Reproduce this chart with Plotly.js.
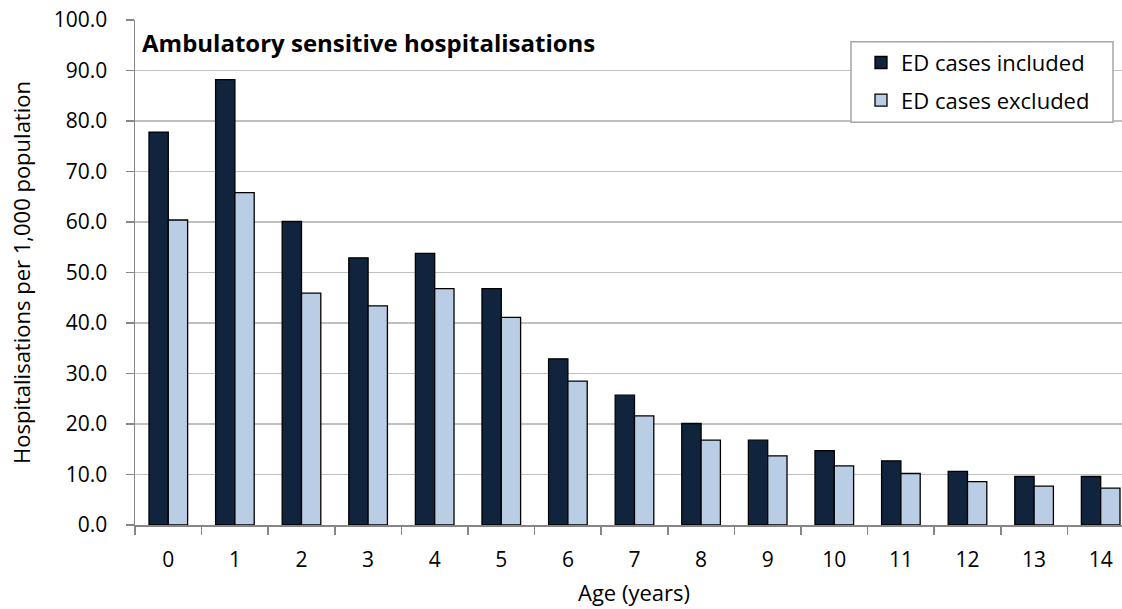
<!DOCTYPE html>
<html>
<head>
<meta charset="utf-8">
<script src="https://cdn.plot.ly/plotly-3.0.1.min.js"></script>
<style>html,body{margin:0;padding:0;background:#fff;}#chart{width:1122px;height:609px;}</style>
</head>
<body>
<div id="chart"></div>
<script>
const ages = ['0','1','2','3','4','5','6','7','8','9','10','11','12','13','14'];
const edIncluded = [77.8, 88.2, 60.1, 52.9, 53.8, 46.8, 32.9, 25.7, 20.1, 16.8, 14.7, 12.7, 10.6, 9.6, 9.6];
const edExcluded = [60.4, 65.8, 45.9, 43.4, 46.8, 41.1, 28.5, 21.6, 16.8, 13.7, 11.7, 10.2, 8.6, 7.7, 7.3];
const seriesNames = ['ED cases included', 'ED cases excluded'];
const yTicks = [0,10,20,30,40,50,60,70,80,90,100];
const chartTitle = 'Ambulatory sensitive hospitalisations';
const xTitle = 'Age (years)';
const yTitle = 'Hospitalisations per 1,000 population';

const FONT = 'Open Sans, Noto Sans, sans-serif';
const PL = 135, PR = 1122, PT = 20, PB = 525;
const px = v => (v - PL) / (PR - PL);
const py = v => (PB - v) / (PB - PT);

const traces = [
  {type:'bar', x:ages, y:edIncluded, name:seriesNames[0], legendgroup:'a',
   marker:{color:'#10243e', line:{color:'#000000', width:1.3}}},
  {type:'bar', x:ages, y:edExcluded, name:seriesNames[1], legendgroup:'b',
   marker:{color:'#b9cde5', line:{color:'#000000', width:1.3}}}
];

const layout = {
  width:1122, height:609,
  margin:{l:PL, r:0, t:PT, b:609-PB},
  paper_bgcolor:'#ffffff', plot_bgcolor:'#ffffff',
  font:{family:FONT, size:21, color:'#000000'},
  barmode:'group', bargap:0.42, bargroupgap:0,
  title:{text:'<b>' + chartTitle + '</b>', font:{family:FONT, size:24, color:'#000'},
         xref:'container', yref:'container', x:142/1122, xanchor:'left', y:1-44/609, yanchor:'middle'},
  xaxis:{type:'category', range:[-0.5, 14.32], tickson:'boundaries', ticks:'outside', ticklen:8, tickwidth:1.5,
         tickcolor:'#868686', showline:true, linecolor:'#868686', linewidth:1.5, showgrid:false,
         ticklabelstandoff:15, tickfont:{size:21}},
  yaxis:{range:[0,100], tickvals:yTicks, tickformat:'.1f', ticks:'outside', ticklen:8, tickwidth:1.5,
         tickcolor:'#868686', showline:true, linecolor:'#868686', linewidth:1.5,
         showgrid:true, gridcolor:'#c0c0c0', gridwidth:1.5, zeroline:false,
         ticklabelstandoff:14, tickfont:{size:21},
         title:{text:yTitle, font:{size:22}, standoff:17}},
  annotations:[
    {text:xTitle, xref:'x', x:ages[7], yref:'paper', y:0, yanchor:'middle', yshift:-(592-PB),
     showarrow:false, font:{size:22}}
  ],
  shapes:[
    {type:'rect', xref:'paper', yref:'paper', x0:px(851), x1:px(1113), y0:py(122.3), y1:py(41.7),
     fillcolor:'#ffffff', line:{color:'#a6a6a6', width:1.5}, layer:'above'}
  ],
  showlegend:true,
  legend:{x:px(861), xanchor:'left', y:py(41.7), yanchor:'top',
          bgcolor:'rgba(0,0,0,0)', borderwidth:0,
          font:{size:22}, tracegroupgap:6, itemclick:false}
};

Plotly.newPlot('chart', traces, layout, {displayModeBar:false, staticPlot:true});
</script>
</body>
</html>
